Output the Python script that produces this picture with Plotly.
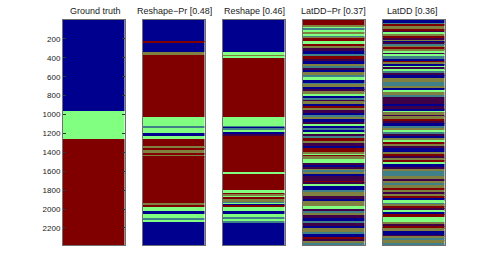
import plotly.graph_objects as go
from plotly.subplots import make_subplots

# ---- data -------------------------------------------------------------
# class labels: B = blue class, G = green class, R = red class;
# two-letter codes = finely interleaved mix of two classes (seen blended)
titles = ["Ground truth", "Reshape\u2212Pr [0.48]", "Reshape [0.46]",
          "LatDD\u2212Pr [0.37]", "LatDD [0.36]"]
n_rows = 2380
tick_vals = [200, 400, 600, 800, 1000, 1200, 1400, 1600, 1800, 2000, 2200]

gt_labels = ["B", "G", "R"]
gt_ends = [958, 1254, 2380]

rpr_labels = ["B", "R", "B", "GR", "R", "G", "BG", "G", "B", "G", "R", "GR", "R",
              "GR", "R", "GR", "R", "GR", "R", "G", "B", "G", "BG", "G", "B"]
rpr_ends = [228, 240, 338, 367, 1025, 1117, 1141, 1194, 1229, 1257, 1342, 1363, 1377,
            1416, 1432, 1442, 1940, 1960, 1975, 2021, 2057, 2099, 2120, 2134, 2380]

rs_labels = ["B", "G", "GR", "G", "R", "G", "BG", "B", "BG", "G", "B", "BR", "R", "G",
             "R", "G", "R", "GR", "G", "R", "GR", "BG", "G", "B", "R", "G", "B", "G",
             "BG", "G", "BG", "B"]
rs_ends = [338, 372, 390, 405, 1025, 1123, 1134, 1148, 1162, 1190, 1205, 1229, 1616, 1631,
           1803, 1835, 1845, 1863, 1874, 1898, 1927, 1941, 1955, 1965, 1979, 2021, 2057, 2085,
           2103, 2127, 2152, 2380]

lpr_labels = ["R", "GR", "G", "BG", "G", "GR", "G", "BG", "GR", "R", "G", "R", "GR", "BR",
              "B", "BG", "R", "BR", "B", "GR", "BG", "BR", "B", "GR", "BG", "G", "B", "BG",
              "GR", "B", "BR", "GR", "G", "B", "BG", "BR", "GR", "B", "R", "GR", "BR", "B",
              "BG", "GR", "B", "BR", "G", "B", "BG", "B", "G", "BR", "BG", "R", "GR", "BR",
              "B", "R", "GR", "G", "R", "GR", "G", "BR", "B", "BR", "GR", "BG", "GR", "B",
              "BR", "R", "BR", "G", "B", "BG", "GR", "BR", "B", "GR", "G", "BR", "BG", "GR",
              "BR", "B", "BG", "BR", "B", "GR", "BG", "B", "R", "BR", "GR", "BG"]
lpr_ends = [60, 74, 95, 109, 137, 151, 173, 187, 200, 218, 257, 278, 296, 331,
            366, 384, 412, 437, 461, 489, 507, 532, 553, 577, 602, 630, 665, 687,
            708, 736, 757, 778, 806, 827, 841, 863, 884, 912, 933, 954, 982, 1010,
            1025, 1053, 1074, 1102, 1123, 1144, 1165, 1194, 1215, 1229, 1250, 1278, 1306, 1334,
            1355, 1399, 1420, 1434, 1448, 1468, 1518, 1539, 1553, 1581, 1595, 1610, 1624, 1652,
            1705, 1722, 1740, 1758, 1793, 1821, 1863, 1891, 1916, 1969, 1997, 2022, 2046, 2067,
            2092, 2127, 2152, 2180, 2197, 2244, 2268, 2292, 2321, 2339, 2363, 2380]

ld_labels = ["B", "BG", "R", "GR", "R", "BR", "G", "GR", "R", "BR", "GR", "B", "BR", "BG",
             "GR", "R", "GR", "G", "BR", "G", "BG", "B", "R", "GR", "B", "G", "BR", "G",
             "BG", "BR", "B", "GR", "BG", "GR", "B", "G", "GR", "BG", "BR", "B", "BR", "B",
             "G", "GR", "BR", "GR", "R", "BR", "B", "BG", "GR", "G", "BG", "BR", "B", "GR",
             "G", "R", "GR", "BR", "B", "GR", "R", "BR", "GR", "R", "G", "B", "BR", "GR",
             "BG", "GR", "BR", "GR", "BG", "GR", "R", "GR", "BR", "GR", "R", "B", "G", "BG",
             "GR", "R", "BR", "G", "B", "R", "G", "GR", "BR", "R", "GR", "B", "BR", "GR",
             "BG", "GR", "BG"]
ld_ends = [32, 49, 67, 102, 120, 137, 151, 172, 190, 215, 229, 243, 260, 278,
           296, 313, 334, 348, 370, 384, 412, 436, 454, 472, 489, 507, 524, 542,
           560, 588, 609, 658, 708, 729, 743, 764, 788, 813, 884, 912, 947, 964,
           982, 1000, 1024, 1045, 1070, 1095, 1116, 1140, 1165, 1186, 1207, 1228, 1250, 1271,
           1292, 1313, 1334, 1355, 1397, 1422, 1440, 1468, 1489, 1510, 1531, 1552, 1580, 1602,
           1651, 1679, 1704, 1728, 1749, 1774, 1799, 1827, 1848, 1869, 1890, 1911, 1932, 1954,
           1975, 1996, 2017, 2038, 2059, 2080, 2137, 2161, 2186, 2207, 2228, 2270, 2292, 2313,
           2334, 2355, 2380]

panels = [(gt_labels, gt_ends), (rpr_labels, rpr_ends), (rs_labels, rs_ends),
          (lpr_labels, lpr_ends), (ld_labels, ld_ends)]

# ---- styling ----------------------------------------------------------
colors = {"B": "#00008f", "G": "#80ff80", "R": "#800000",
          "GR": "#808040", "BG": "#408088", "BR": "#400048"}

fig = make_subplots(rows=1, cols=5, shared_yaxes=True, subplot_titles=titles)

for i, (labels, ends) in enumerate(panels):
    starts = [0] + ends[:-1]
    lengths = [e - s for s, e in zip(starts, ends)]
    fig.add_trace(go.Bar(
        x=[0] * len(labels), base=starts, y=lengths, width=1,
        marker=dict(color=[colors[l] for l in labels], line=dict(width=0)),
        hoverinfo="skip", showlegend=False), row=1, col=i + 1)

W = 382.0
for i in range(5):
    ax = "xaxis" if i == 0 else f"xaxis{i+1}"
    ya = "yaxis" if i == 0 else f"yaxis{i+1}"
    fig.layout[ax].update(domain=[80 * i / W, (80 * i + 61.5) / W], range=[-0.5, 0.5],
                          showticklabels=False, ticks="", showgrid=False, zeroline=False,
                          showline=True, mirror=True, linecolor="#707070", linewidth=1)
    fig.layout[ya].update(range=[n_rows, 0], showgrid=False, zeroline=False,
                          showline=True, mirror=True, linecolor="#707070", linewidth=1,
                          showticklabels=(i == 0),
                          ticks="inside" if i == 0 else "", ticklen=3, tickcolor="#333",
                          tickvals=tick_vals)
fig.layout.yaxis.update(mirror="ticks", tickfont=dict(size=8, color="#222",
                                                       family="Liberation Sans, Arial"))

for a in fig.layout.annotations:
    a.font = dict(size=9, color="#222", family="Liberation Sans, Arial")
    a.yshift = 2

fig.update_layout(width=491, height=276, barmode="overlay", bargap=0,
                  margin=dict(l=63, r=46, t=20, b=31),
                  paper_bgcolor="white", plot_bgcolor="white", hovermode=False)

# remove the default page margin so the figure sits at the window's corner
fig.write_html("out.html", config={"displayModeBar": False},
               post_script="document.body.style.margin='0';")
